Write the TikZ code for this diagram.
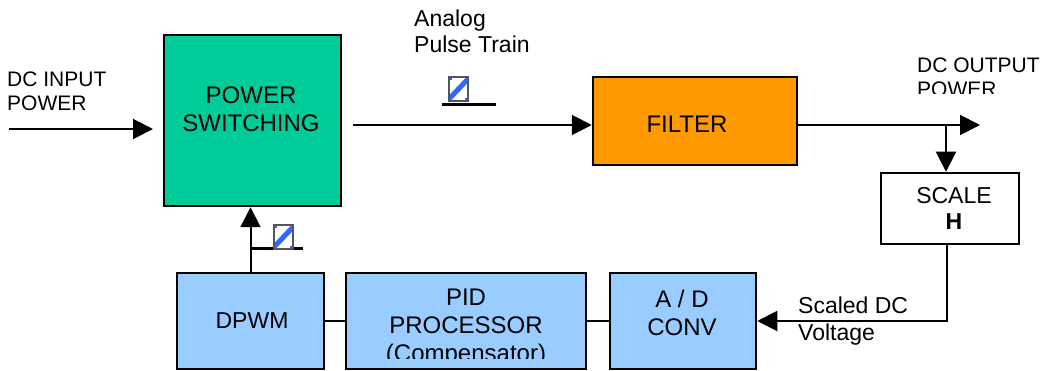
\documentclass[tikz,border=0pt]{standalone}
\usepackage{fontspec}
\setmainfont{Liberation Sans}
\usetikzlibrary{arrows.meta}
\definecolor{psgreen}{HTML}{00CC99}
\definecolor{filtorange}{HTML}{FF9900}
\definecolor{ltblue}{HTML}{99CCFF}
\definecolor{stripeblue}{HTML}{3366FF}
\definecolor{icongray}{HTML}{555555}
\begin{document}
\begin{tikzpicture}[x=1pt,y=-1pt,
  blockbox/.style={draw, line width=2.5pt, inner sep=0pt},
  boxtext/.style={inner sep=0pt, align=center, anchor=north, font=\fontsize{24}{28}\selectfont},
  labeltext/.style={inner sep=0pt, align=left, anchor=north west, font=\fontsize{21}{24}\selectfont},
  wire/.style={line width=2pt},
  arrowwire/.style={line width=2pt, -{Triangle[length=20pt,width=20pt]}},
  barline/.style={line width=3pt},
  pulseicon/.pic={
    \begin{scope}
      \clip (0,0) rectangle (19,24);
      \fill[white] (0,0) rectangle (19,24);
      \draw[stripeblue, line width=5pt] (0,22) -- (19,2);
      \fill[stripeblue] (0,0) rectangle (3,3);
      \fill[stripeblue] (16,21) rectangle (19,24);
    \end{scope}
    \draw[icongray, line width=1.5pt] (0,0) rectangle (19,24);
  }]
\useasboundingbox (0,0) rectangle (1042,371);

% blocks
\node[blockbox, fill=psgreen, minimum width=177pt, minimum height=171pt] (ps) at (252.5,120.5) {};
\node[blockbox, fill=filtorange, minimum width=204pt, minimum height=88pt] (filter) at (695,121) {};
\node[blockbox, fill=white, minimum width=138pt, minimum height=71pt] (scale) at (950,208.5) {};
\node[blockbox, fill=ltblue, minimum width=147pt, minimum height=96pt] (dpwm) at (250.5,321) {};
\node[blockbox, fill=ltblue, minimum width=240pt, minimum height=96pt] (pid) at (466,321) {};
\node[blockbox, fill=ltblue, minimum width=146pt, minimum height=96pt] (ad) at (683,321) {};

% block texts
\node[boxtext] (pstext) at (251,87) {POWER\\SWITCHING};
\node[boxtext] (filtertext) at (687,116) {FILTER};
\node[boxtext, font=\fontsize{23}{26}\selectfont] (scaletext) at (954,187) {SCALE\\\textbf{H}};
\node[boxtext, font=\fontsize{23}{28}\selectfont] (dpwmtext) at (252,312) {DPWM};
\begin{scope}
  \clip (348,275) rectangle (584,359);
  \node[boxtext] (pidtext) at (466,289) {PID\\PROCESSOR\\(Compensator)};
\end{scope}
\node[boxtext] (adtext) at (682,290) {A / D\\CONV};

% labels
\node[labeltext] (inlabel) at (7,72) {DC INPUT\\POWER};
\node[labeltext, font=\fontsize{23}{26}\selectfont] (pulselabel) at (414,10) {Analog\\Pulse Train};
\begin{scope}
  \clip (900,40) rectangle (1042,94);
  \node[labeltext] (outlabel) at (917,58) {DC OUTPUT\\POWER};
\end{scope}
\node[labeltext, font=\fontsize{23}{27}\selectfont] (scaledlabel) at (798,297) {Scaled DC\\Voltage};

% coordinates
\coordinate (inS) at (9,129);
\coordinate (inE) at (153,129);
\coordinate (psOut) at (353,125);
\coordinate (outEnd) at (980,125);
\coordinate (branch) at (946,125);
\coordinate (fbTop) at (947,244);
\coordinate (fbCorner) at (947,321);
\coordinate (bar1a) at (442,105);
\coordinate (bar1b) at (496,105);
\coordinate (bar2a) at (250,249);
\coordinate (bar2b) at (303,249);

% connectors
\draw[arrowwire] (inS) -- (inE);
\draw[arrowwire] (psOut) -- (psOut -| filter.west);
\draw[arrowwire] (filter.east |- outEnd) -- (outEnd);
\draw[arrowwire] (branch) -- (branch |- scale.north);
\draw[arrowwire] (fbTop) -- (fbCorner) -- (fbCorner -| ad.east);
\draw[arrowwire] (dpwm.north) -- (dpwm.north |- ps.south);
\draw[wire] (dpwm.east) -- (pid.west);
\draw[wire] (pid.east) -- (ad.west);

% pulse train markers
\draw[barline] (bar1a) -- (bar1b);
\draw[barline] (bar2a) -- (bar2b);
\pic at (449,77) {pulseicon};
\pic at (274,225) {pulseicon};
\end{tikzpicture}
\end{document}
